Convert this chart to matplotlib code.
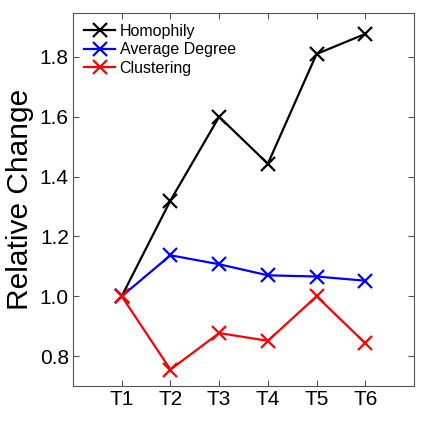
import matplotlib
matplotlib.use("Agg")
import matplotlib.pyplot as plt

plt.rcParams['font.family'] = ['Liberation Sans', 'DejaVu Sans']

periods = ['T1', 'T2', 'T3', 'T4', 'T5', 'T6']
homophily = [1.0, 1.32, 1.60, 1.443, 1.81, 1.877]
avg_degree = [1.0, 1.137, 1.107, 1.07, 1.066, 1.052]
clustering = [1.0, 0.755, 0.877, 0.851, 1.0, 0.843]

x = list(range(1, len(periods) + 1))

fig = plt.figure(figsize=(4.36, 4.36), dpi=100)
ax = fig.add_axes([73 / 436, 50 / 436, 341 / 436, 373 / 436])

ax.plot(x, homophily, '-x', color='black', lw=1.6, ms=10, mew=1.6, label='Homophily')
ax.plot(x, avg_degree, '-x', color='blue', lw=1.6, ms=10, mew=1.6, label='Average Degree')
ax.plot(x, clustering, '-x', color='red', lw=1.6, ms=10, mew=1.6, label='Clustering')

ax.set_xlim(0, 7)
ax.set_ylim(0.7, 1.947)
ax.set_xticks(x)
ax.set_xticklabels(periods)
ax.set_yticks([0.8, 1.0, 1.2, 1.4, 1.6, 1.8])
ax.set_yticklabels(['0.8', '1.0', '1.2', '1.4', '1.6', '1.8'])
ax.tick_params(labelsize=15, direction='in', length=4, top=True, right=True,
               color='#555555', pad=3)
for sp in ax.spines.values():
    sp.set_color('#555555')
ax.set_ylabel('Relative Change', fontsize=21.5, labelpad=4)

ax.legend(loc='upper left', bbox_to_anchor=(0.01, 0.992), fontsize=11.5, frameon=False,
          handlelength=1.9, handletextpad=0.3, borderaxespad=0.1, labelspacing=0.22)

fig.savefig('out.png', dpi=100)
